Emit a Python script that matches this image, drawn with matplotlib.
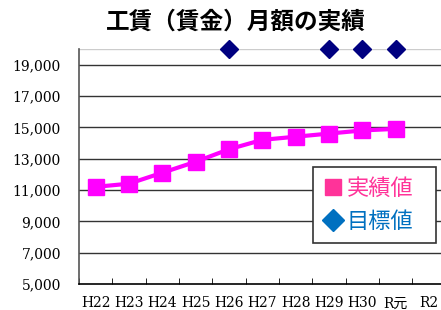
import numpy as np
import matplotlib.pyplot as plt
from matplotlib.lines import Line2D

years = ['H22', 'H23', 'H24', 'H25', 'H26', 'H27', 'H28', 'H29', 'H30', 'R元', 'R2']
actual = [11200, 11400, 12100, 12800, 13600, 14200, 14400, 14600, 14800, 14900, None]
target = [None, None, None, None, 20000, None, None, 20000, 20000, 20000, None]
yticks = [5000, 7000, 9000, 11000, 13000, 15000, 17000, 19000]

serif = ['DejaVu Serif', 'Noto Sans CJK JP']
cjk = ['Noto Sans CJK JP', 'DejaVu Sans']

fig = plt.figure(figsize=(4.41, 3.10), dpi=100)
ax = fig.add_axes([0.179, 0.084, 0.832, 0.758])

x = np.arange(len(years))
act = np.array([np.nan if v is None else v for v in actual], dtype=float)
tgt = np.array([np.nan if v is None else v for v in target], dtype=float)

ax.plot(x, act, color='#FF00FF', linewidth=3, marker='s', markersize=11, zorder=3)
ax.plot(x, tgt, linestyle='none', marker='D', color='#000080', markersize=9,
        clip_on=False, zorder=4)

ax.set_xlim(-0.5, len(years) - 0.5)
ax.set_ylim(5000, 20000)
ax.set_yticks(yticks)
ax.set_yticklabels([f'{v:,}' for v in yticks], family=serif, fontsize=10)
ax.set_xticks(x)
ax.set_xticklabels(years, family=serif, fontsize=10)
ax.set_xticks(np.arange(len(years)) - 0.5, minor=True)
ax.tick_params(axis='x', which='major', length=0, pad=9)
ax.tick_params(axis='x', which='minor', length=4, direction='in', color='black')
ax.tick_params(axis='y', length=0, pad=13)

for v in yticks[1:]:
    ax.axhline(v, color='#333333', linewidth=1, zorder=1)
ax.axhline(20000, color='#cccccc', linewidth=1, zorder=1)

ax.spines['top'].set_visible(False)
ax.spines['right'].set_visible(False)
ax.spines['left'].set_color('#555555')
ax.spines['left'].set_linewidth(1.2)
ax.spines['bottom'].set_color('black')
ax.spines['bottom'].set_linewidth(1.2)

handles = [Line2D([], [], linestyle='none', marker='s', color='#FF3399', markersize=12),
           Line2D([], [], linestyle='none', marker='D', color='#0070C0', markersize=11)]
leg = ax.legend(handles, ['実績値', '目標値'], loc='lower left',
                bbox_to_anchor=(0.638, 0.174, 0.335, 0.324), mode='expand',
                prop={'family': cjk, 'size': 16}, labelcolor=['#FF3399', '#0070C0'],
                fancybox=False, edgecolor='#333333', framealpha=1,
                handletextpad=0.15, handlelength=0.9, borderpad=0.45, labelspacing=0.45,
                borderaxespad=0)
leg.get_frame().set_linewidth(1.2)

fig.text(0.535, 0.929, '工賃（賃金）月額の実績', ha='center', va='center',
         family=cjk, fontsize=17, fontweight='bold')

fig.savefig('out.png', dpi=100)
